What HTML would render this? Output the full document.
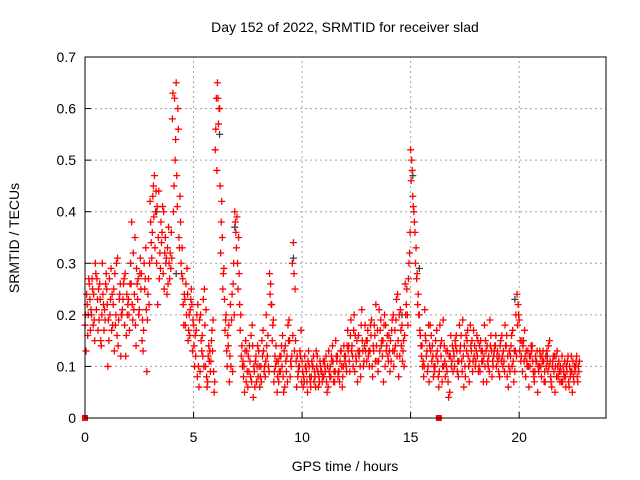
<!DOCTYPE html>
<html><head><meta charset="utf-8"><style>
body{margin:0;background:#fff}
svg{display:block;font-family:"Liberation Sans",sans-serif}
</style></head><body>
<svg id="chart" width="640" height="480">
<text x="345" y="32" font-size="14" text-anchor="middle">Day 152 of 2022, SRMTID for receiver slad</text>
<text x="345" y="471" font-size="14" text-anchor="middle">GPS time / hours</text>
<text transform="translate(19,238) rotate(-90)" font-size="14" text-anchor="middle">SRMTID / TECUs</text>
<g id="grid"></g><g id="marks"></g><g id="axes"></g>
</svg>
<script>
const xTicks=[0,5,10,15,20];
const yTicks=[0,0.1,0.2,0.3,0.4,0.5,0.6,0.7];
const yTickLabels=["0","0.1","0.2","0.3","0.4","0.5","0.6","0.7"];
const seriesAStart=0.0, seriesBStart=0.05, seriesCStart=0.025, seriesDStart=0.075, sampleStep=0.1;
const seriesA=[.18,.22,.26,.2,.24,.28,.17,.23,.3,.21,
.25,.15,.29,.22,.18,.31,.24,.2,.27,.16,
.23,.3,.19,.35,.26,.21,.28,.17,.33,.24,
.42,.36,.47,.3,.44,.38,.28,.35,.33,.27,
.31,.45,.65,.56,.38,.27,.23,.29,.2,.25,
.18,.12,.22,.09,.16,.25,.08,.14,.11,.19,
.52,.65,.6,.42,.29,.2,.14,.22,.09,.4,
.39,.28,.12,.08,.15,.06,.11,.18,.09,.07,
.13,.1,.17,.08,.12,.28,.22,.07,.14,.11,
.09,.16,.06,.12,.19,.1,.34,.15,.08,.13,
.11,.07,.09,.13,.06,.1,.08,.12,.07,.09,
.08,.12,.06,.1,.14,.07,.11,.09,.13,.1,
.12,.17,.09,.14,.2,.11,.16,.08,.13,.18,
.15,.1,.19,.13,.22,.09,.17,.12,.2,.14,
.16,.11,.2,.14,.24,.12,.18,.1,.22,.27,
.52,.43,.36,.28,.2,.12,.08,.15,.1,.18,
.14,.09,.17,.06,.12,.19,.08,.13,.05,.11,
.12,.16,.08,.14,.19,.1,.15,.07,.13,.17,
.11,.15,.09,.13,.18,.07,.12,.16,.1,.14,
.13,.08,.16,.11,.14,.06,.12,.17,.09,.24,
.19,.12,.15,.08,.13,.1,.14,.07,.11,.09,
.1,.13,.07,.11,.15,.06,.09,.12,.08,.1,
.07,.11,.09,.06,.12,.08,.1,.07];
const seriesB=[.13,.2,.17,.25,.15,.27,.19,.14,.22,.26,
.1,.2,.24,.13,.3,.19,.12,.23,.28,.2,
.17,.38,.21,.14,.27,.31,.19,.25,.09,.22,
.34,.45,.4,.22,.32,.36,.25,.31,.37,.29,
.63,.5,.41,.33,.28,.18,.26,.15,.21,.13,
.1,.2,.06,.15,.23,.1,.07,.13,.17,.05,
.62,.57,.32,.25,.17,.1,.07,.19,.3,.36,
.25,.17,.1,.05,.13,.09,.16,.04,.11,.14,
.06,.15,.09,.2,.1,.26,.18,.12,.05,.09,
.14,.05,.11,.18,.08,.3,.13,.06,.1,.17,
.06,.1,.05,.08,.11,.07,.13,.06,.1,.08,
.1,.05,.09,.12,.07,.15,.08,.11,.06,.12,
.09,.14,.19,.1,.16,.07,.13,.21,.11,.15,
.12,.18,.08,.16,.11,.21,.14,.07,.18,.12,
.09,.19,.13,.23,.08,.17,.13,.26,.2,.32,
.5,.4,.33,.24,.16,.1,.21,.13,.07,.16,
.08,.15,.11,.18,.07,.14,.1,.04,.16,.09,
.15,.09,.18,.11,.06,.16,.12,.18,.09,.14,
.16,.1,.13,.07,.15,.11,.19,.08,.13,.1,
.09,.15,.1,.18,.08,.13,.16,.07,.2,.22,
.15,.09,.17,.11,.06,.14,.09,.12,.05,.13,
.12,.07,.1,.14,.08,.11,.05,.13,.09,.07,
.09,.06,.12,.08,.05,.1,.12,.09];
const seriesC=[.2,.16,.23,.27,.19,.21,.25,.15,.24,.19,
.22,.27,.17,.25,.2,.14,.26,.21,.18,.24,
.2,.26,.32,.18,.23,.28,.15,.3,.21,.27,
.38,.43,.33,.41,.27,.34,.4,.3,.26,.32,
.58,.62,.47,.35,.3,.22,.18,.24,.16,.22,
.14,.17,.1,.2,.12,.18,.06,.11,.15,.09,
.56,.62,.45,.35,.23,.13,.18,.1,.26,.38,
.3,.22,.14,.1,.07,.12,.08,.14,.06,.1,
.1,.07,.13,.11,.16,.24,.15,.09,.11,.07,
.12,.08,.14,.07,.15,.12,.28,.11,.09,.12,
.09,.12,.07,.1,.08,.12,.06,.09,.11,.07,
.11,.07,.13,.08,.11,.09,.12,.07,.1,.14,
.1,.13,.16,.12,.09,.15,.12,.18,.1,.13,
.17,.13,.1,.18,.14,.11,.19,.15,.1,.16,
.13,.17,.1,.19,.15,.21,.11,.16,.25,.3,
.46,.41,.3,.22,.17,.14,.1,.12,.18,.13,
.12,.1,.13,.09,.15,.1,.13,.07,.12,.14,
.1,.13,.11,.16,.12,.08,.17,.11,.15,.12,
.13,.09,.15,.11,.1,.14,.09,.13,.12,.16,
.11,.14,.12,.09,.16,.1,.14,.11,.13,.18,
.13,.15,.11,.13,.1,.12,.11,.09,.13,.1,
.08,.11,.12,.09,.11,.1,.12,.08,.11,.09,
.1,.08,.11,.1,.09,.07,.11,.1];
const seriesD=[.24,.27,.21,.18,.3,.23,.26,.2,.17,.28,
.19,.23,.18,.28,.16,.23,.2,.26,.12,.22,
.26,.22,.24,.29,.2,.25,.13,.27,.19,.3,
.31,.39,.44,.35,.29,.41,.32,.24,.3,.36,
.4,.54,.6,.43,.33,.24,.2,.17,.23,.19,
.16,.08,.19,.13,.1,.21,.12,.09,.13,.07,
.48,.6,.38,.28,.19,.16,.12,.24,.2,.33,
.35,.2,.11,.13,.09,.14,.07,.1,.12,.08,
.08,.12,.1,.14,.09,.22,.19,.1,.08,.12,
.1,.13,.09,.15,.11,.16,.25,.12,.1,.07,
.08,.1,.11,.07,.1,.09,.1,.08,.09,.11,
.09,.1,.08,.11,.09,.12,.09,.13,.08,.11,
.14,.11,.13,.17,.12,.13,.1,.15,.14,.11,
.13,.16,.14,.11,.17,.13,.15,.18,.13,.11,
.15,.13,.17,.12,.2,.14,.15,.2,.18,.36,
.48,.38,.27,.2,.14,.11,.16,.09,.14,.11,
.1,.12,.08,.14,.1,.11,.09,.12,.1,.13,
.14,.11,.13,.09,.14,.13,.1,.14,.11,.1,
.12,.14,.11,.12,.13,.1,.14,.11,.14,.12,
.12,.11,.13,.14,.12,.09,.1,.13,.12,.2,
.11,.14,.12,.1,.12,.13,.08,.11,.1,.12,
.11,.09,.13,.1,.07,.12,.1,.1,.07,.12,
.08,.1,.07,.09,.11,.09,.08,.11];
const grayTimes=[2.1,3.3,4.2,6.2,6.9,9.6,14.6,15.1,15.4,19.8,21.3];
const grayValues=[.3,.4,.28,.55,.37,.31,.2,.47,.29,.23,.12];
const flagTimes=[0,16.3];
const flagValues=[0,0];

const X0=85,X1=606,Y0=418,Y1=57,XMAX=24,YMAX=0.7;
const xs=t=>X0+t/XMAX*(X1-X0);
const ys=v=>Y0-v/YMAX*(Y0-Y1);
const NS="http://www.w3.org/2000/svg";
function mk(tag,parent,attrs){const e=document.createElementNS(NS,tag);for(const k in attrs)e.setAttribute(k,attrs[k]);parent.appendChild(e);return e;}
const grid=document.getElementById('grid'),marks=document.getElementById('marks'),axes=document.getElementById('axes');
xTicks.forEach(t=>{
  if(t>0){const g=mk('line',grid,{x1:xs(t),x2:xs(t),y1:Y0,y2:Y1,stroke:'#a0a0a0','stroke-dasharray':'2,3'});
  
  }
  const tk=mk('line',axes,{x1:xs(t),x2:xs(t),y1:Y0,y2:Y0-6,stroke:'#000'});
  
  
  const l=mk('text',axes,{x:xs(t),y:Y0+24,'font-size':14,'text-anchor':'middle'});l.textContent=t;
  
  
});
yTicks.forEach((v,i)=>{
  if(v>0&&v<YMAX){const g=mk('line',grid,{x1:X0,x2:X1,y1:ys(v),y2:ys(v),stroke:'#a0a0a0','stroke-dasharray':'2,3'});
  
  }
  const tk=mk('line',axes,{x1:X0,x2:X0+6,y1:ys(v),y2:ys(v),stroke:'#000'});
  
  
  const l=mk('text',axes,{x:X0-9,y:ys(v)+5,'font-size':14,'text-anchor':'end'});l.textContent=yTickLabels[i];
  
  
});
const frame=mk('rect',axes,{x:X0,y:Y1,width:X1-X0,height:Y0-Y1,fill:'none',stroke:'#000'});


function plus(x,y,c,name){const p=mk('path',marks,{d:`M${x-3.5},${y}h7M${x},${y-3.5}v7`,stroke:c,'stroke-width':1.3,fill:'none'});
  
  }
grayTimes.forEach((t,i)=>plus(xs(t),ys(grayValues[i]),'#404040','gray-point'));
seriesA.forEach((v,i)=>plus(xs(seriesAStart+i*sampleStep),ys(v),'#ff0000','srmtid-point'));
seriesB.forEach((v,i)=>plus(xs(seriesBStart+i*sampleStep),ys(v),'#ff0000','srmtid-point'));
seriesC.forEach((v,i)=>plus(xs(seriesCStart+i*sampleStep),ys(v),'#ff0000','srmtid-point'));
seriesD.forEach((v,i)=>plus(xs(seriesDStart+i*sampleStep),ys(v),'#ff0000','srmtid-point'));
flagTimes.forEach((t,i)=>{const r=mk('rect',marks,{x:xs(t)-3,y:ys(flagValues[i])-3,width:6,height:6,fill:'#ff0000'});
  
  });
</script>
</body></html>
